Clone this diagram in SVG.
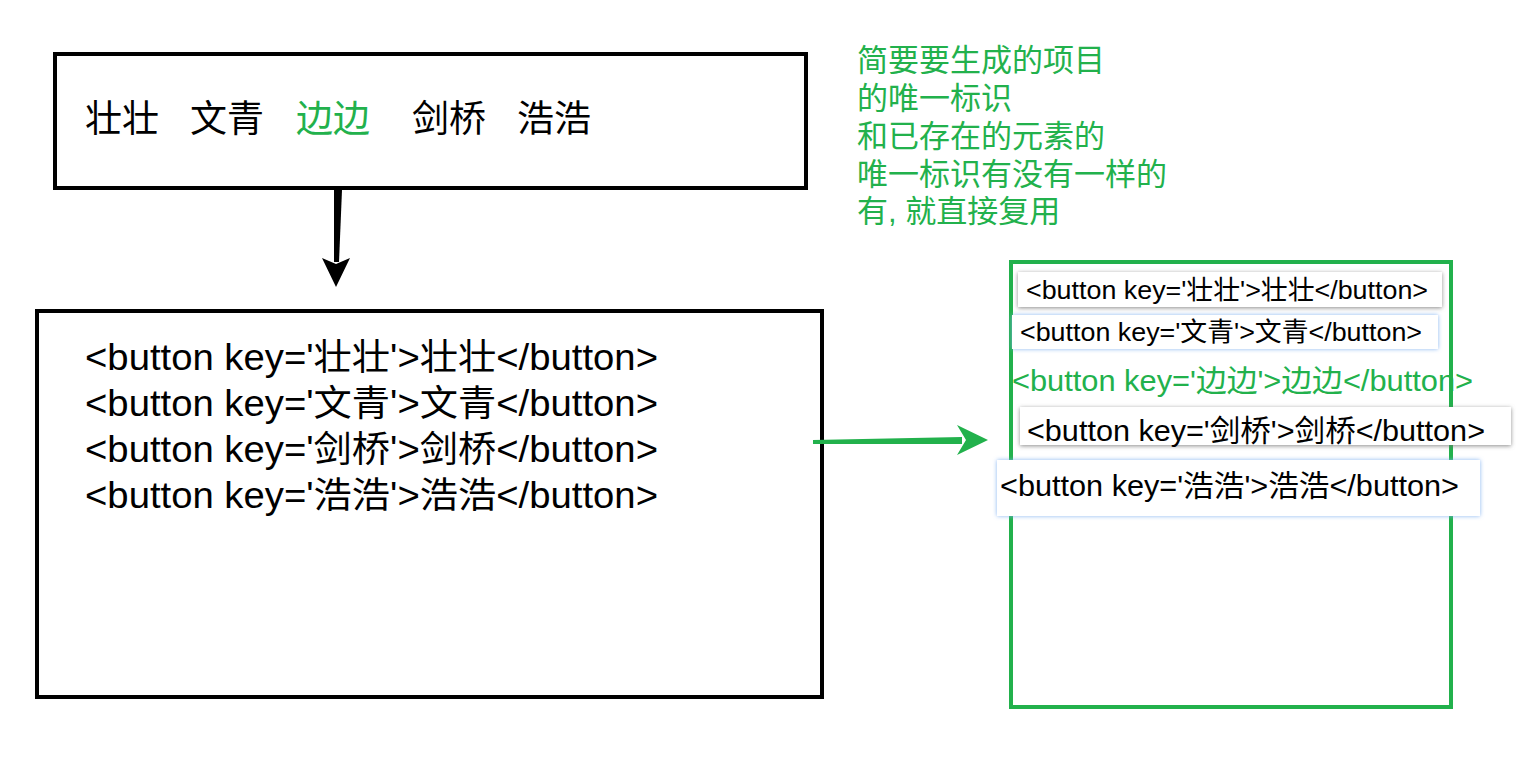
<svg xmlns="http://www.w3.org/2000/svg" width="1522" height="759" viewBox="0 0 1522 759">
<defs>
<style>
.box{fill:#fff;stroke:#000;stroke-width:4}
.gbox{fill:#fff;stroke:#22b14c;stroke-width:4}
.t{font-family:"Liberation Sans","Noto Sans CJK SC",sans-serif;fill:#000}
.g{fill:#22b14c}
.big{font-size:37px}
.code{font-size:36px}
.note{font-size:31px}
.btn{fill:#fff}
</style>
<filter id="shG" x="-10%" y="-40%" width="120%" height="180%">
<feDropShadow dx="0" dy="1" stdDeviation="2" flood-color="#707070" flood-opacity="0.8"/>
</filter>
<filter id="shB" x="-10%" y="-40%" width="120%" height="180%">
<feDropShadow dx="0" dy="0" stdDeviation="2" flood-color="#7aaef0" flood-opacity="0.9"/>
</filter>
</defs>
<rect width="1522" height="759" fill="#fff"/>

<g id="list-node">
<rect class="box" x="55" y="54" width="751" height="134"/>
<text class="t big" y="132"><tspan x="85">壮壮</tspan><tspan x="190">文青</tspan><tspan x="296" class="g">边边</tspan><tspan x="412">剑桥</tspan><tspan x="517">浩浩</tspan></text>
</g>

<g id="vdom-node">
<rect class="box" x="37" y="311" width="785" height="386"/>
<text class="t code" x="85" y="370" textLength="573" lengthAdjust="spacingAndGlyphs">&lt;button key='壮壮'&gt;壮壮&lt;/button&gt;</text>
<text class="t code" x="85" y="416" textLength="573" lengthAdjust="spacingAndGlyphs">&lt;button key='文青'&gt;文青&lt;/button&gt;</text>
<text class="t code" x="85" y="462" textLength="573" lengthAdjust="spacingAndGlyphs">&lt;button key='剑桥'&gt;剑桥&lt;/button&gt;</text>
<text class="t code" x="85" y="508" textLength="573" lengthAdjust="spacingAndGlyphs">&lt;button key='浩浩'&gt;浩浩&lt;/button&gt;</text>
</g>

<g id="note">
<text class="t note g" x="857">
<tspan x="857" y="71">简要要生成的项目</tspan>
<tspan x="857" y="109">的唯一标识</tspan>
<tspan x="857" y="147">和已存在的元素的</tspan>
<tspan x="857" y="185">唯一标识有没有一样的</tspan>
<tspan x="857" y="222">有, 就直接复用</tspan>
</text>
</g>

<g id="dom-node">
<rect class="gbox" x="1011" y="262" width="440" height="445"/>
<rect class="btn" x="1018" y="272" width="424" height="35" filter="url(#shG)"/>
<text class="t" font-size="26" x="1026" y="299" textLength="402" lengthAdjust="spacingAndGlyphs">&lt;button key='壮壮'&gt;壮壮&lt;/button&gt;</text>
<rect class="btn" x="1012" y="315" width="426" height="34" filter="url(#shB)"/>
<text class="t" font-size="26" x="1020" y="341" textLength="402" lengthAdjust="spacingAndGlyphs">&lt;button key='文青'&gt;文青&lt;/button&gt;</text>
<text class="t g" font-size="30" x="1012" y="391" textLength="461" lengthAdjust="spacingAndGlyphs">&lt;button key='边边'&gt;边边&lt;/button&gt;</text>
<rect class="btn" x="1020" y="407" width="491" height="38" filter="url(#shG)"/>
<text class="t" font-size="30" x="1027" y="441" textLength="458" lengthAdjust="spacingAndGlyphs">&lt;button key='剑桥'&gt;剑桥&lt;/button&gt;</text>
<rect class="btn" x="997" y="460" width="483" height="56" filter="url(#shB)"/>
<text class="t" font-size="30" x="1000" y="496" textLength="459" lengthAdjust="spacingAndGlyphs">&lt;button key='浩浩'&gt;浩浩&lt;/button&gt;</text>
</g>

<g id="connectors">
<polygon points="334,190 342,190 339,262 334,262" fill="#000"/>
<polygon points="322,258 336,264 350,258 336,287" fill="#000"/>
<polygon points="813,440 962,437 962,444 813,444" fill="#22b14c"/>
<polygon points="957,425 988,440 957,455 966,440" fill="#22b14c"/>
</g>
</svg>
